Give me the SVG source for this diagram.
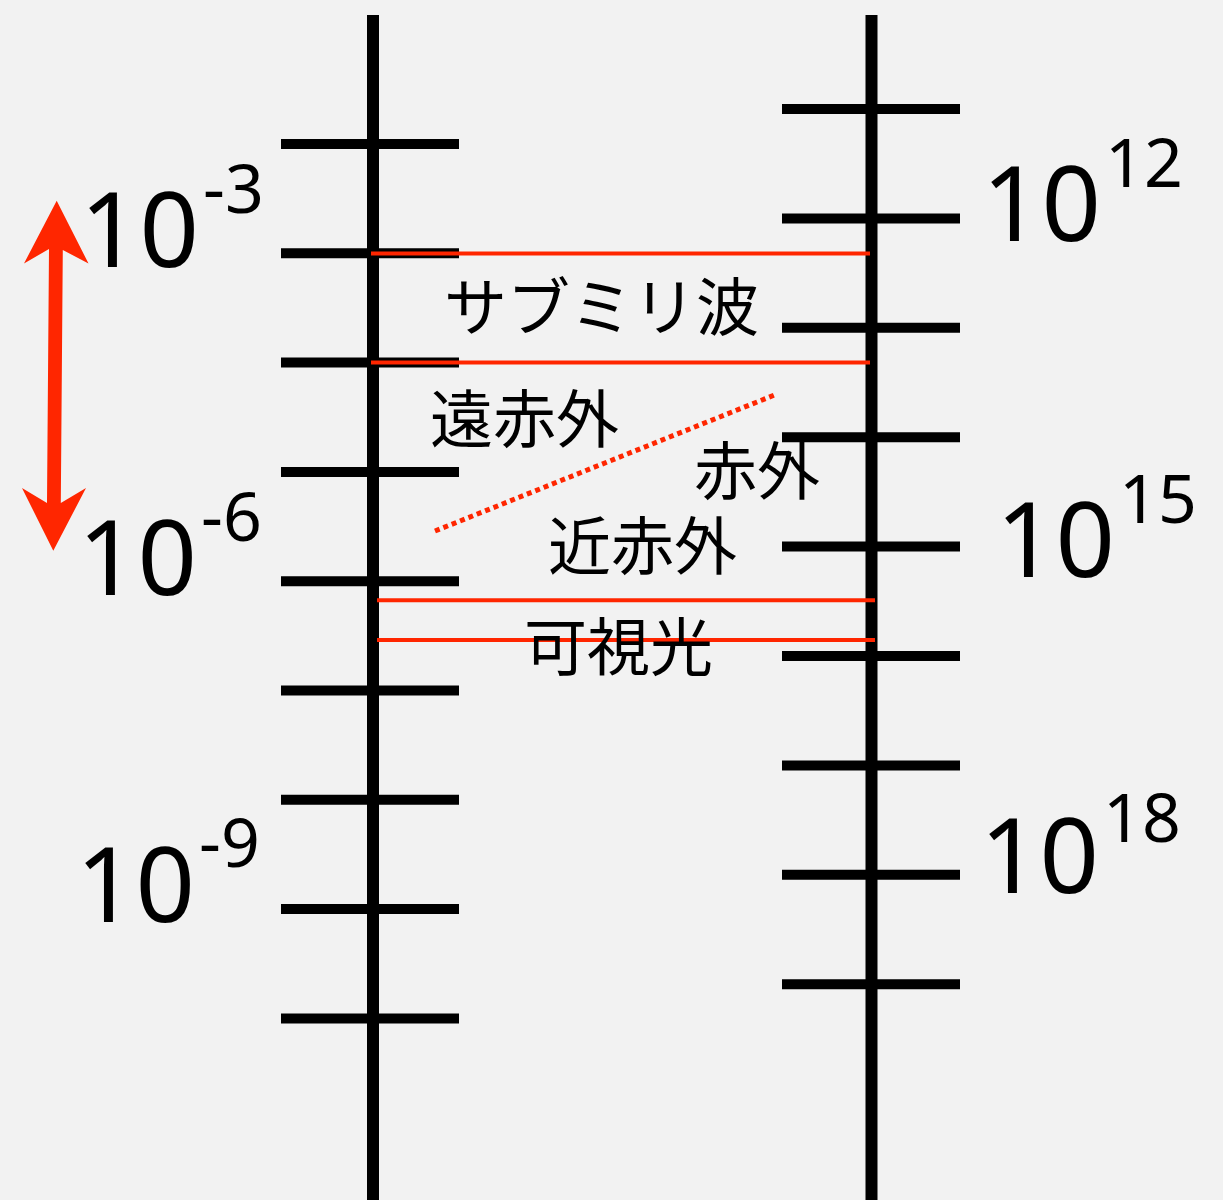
<svg xmlns="http://www.w3.org/2000/svg" width="1223" height="1200" viewBox="0 0 1223 1200">
<style>
.axis{stroke:#000;stroke-width:12;fill:none}
.tick{stroke:#000;stroke-width:10;fill:none}
.band{stroke:#ff2600;stroke-width:4;fill:none}
.dot{stroke:#ff2600;stroke-width:5;stroke-dasharray:5 4;fill:none}
.num{font-family:"Noto Sans","Open Sans",sans-serif;fill:#000}
.big{font-size:104px}
.sup{font-size:68px}
.jp{font-family:"Noto Sans CJK JP",sans-serif;font-size:63px;fill:#000}
</style>
<rect width="1223" height="1200" fill="#f2f2f2"/>
<g id="left-axis">
<line class="axis" x1="373" y1="15" x2="373" y2="1200"/>
<path class="tick" d="M281 144H459M281 253.3H459M281 362.6H459M281 471.9H459M281 581.2H459M281 690.5H459M281 799.8H459M281 909.1H459M281 1018.4H459"/>
</g>
<g id="right-axis">
<line class="axis" x1="871.5" y1="15" x2="871.5" y2="1200"/>
<path class="tick" d="M782 109H960M782 218.4H960M782 327.8H960M782 437.2H960M782 546.6H960M782 656H960M782 765.4H960M782 874.8H960M782 984.2H960"/>
</g>
<g id="connectors">
<line class="band" x1="371" y1="253.5" x2="870" y2="253.5"/>
<line class="band" x1="371" y1="362.5" x2="870" y2="362.5"/>
<line class="band" x1="377" y1="600.3" x2="875" y2="600.3"/>
<line class="band" x1="377" y1="640" x2="875" y2="640"/>
<line class="dot" x1="435" y1="531" x2="777" y2="394"/>
<path id="range-arrow" fill="#ff2600" d="M56.7 200.7L88.5 263.5L62.8 250L60.8 503L86 488L53.3 550.7L22 488L47 503L49 249L24 263.5Z"/>
</g>
<g id="wavelength-labels">
<text class="num" x="80" y="267"><tspan class="big">10</tspan><tspan class="sup" dx="4" dy="-54">-3</tspan></text>
<text class="num" x="78" y="595"><tspan class="big">10</tspan><tspan class="sup" dx="4" dy="-54">-6</tspan></text>
<text class="num" x="76" y="922"><tspan class="big">10</tspan><tspan class="sup" dx="4" dy="-55">-9</tspan></text>
</g>
<g id="frequency-labels">
<text class="num" x="982" y="241"><tspan class="big">10</tspan><tspan class="sup" dx="4" dy="-54">12</tspan></text>
<text class="num" x="996" y="577"><tspan class="big">10</tspan><tspan class="sup" dx="4" dy="-54">15</tspan></text>
<text class="num" x="980" y="893"><tspan class="big">10</tspan><tspan class="sup" dx="4" dy="-51">18</tspan></text>
</g>
<g id="band-labels">
<text class="jp" x="444" y="330">サブミリ波</text>
<text class="jp" x="430" y="442">遠赤外</text>
<text class="jp" x="694" y="494">赤外</text>
<text class="jp" x="548" y="569">近赤外</text>
<text class="jp" x="524" y="670">可視光</text>
</g>
</svg>
